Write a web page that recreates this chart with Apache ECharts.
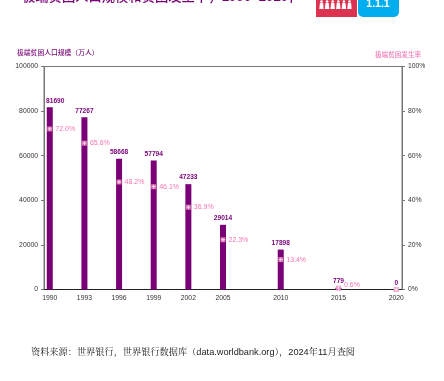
<!DOCTYPE html>
<html><head><meta charset="utf-8">
<style>html,body{margin:0;padding:0;background:#fff}#c{width:444px;height:381px}</style>
<script src="https://cdn.jsdelivr.net/npm/echarts@6/dist/echarts.min.js"></script></head>
<body><div id="c"></div>
<script>
const years = ['1990','1991','1992','1993','1994','1995','1996','1997','1998','1999','2000','2001','2002','2003','2004','2005','2006','2007','2008','2009','2010','2011','2012','2013','2014','2015','2016','2017','2018','2019','2020'];
const labelledYears = ['1990','1993','1996','1999','2002','2005','2010','2015','2020'];
const population = {1990:81690,1993:77267,1996:58668,1999:57794,2002:47233,2005:29014,2010:17898,2015:779,2020:0};
const rate = {1990:72.0,1993:65.6,1996:48.2,1999:46.1,2002:36.9,2005:22.3,2010:13.4,2015:0.6,2020:0};
const rateLabels = {1990:'72.0%',1993:'65.6%',1996:'48.2%',1999:'46.1%',2002:'36.9%',2005:'22.3%',2010:'13.4%',2015:'0.6%'};
const tickFont = 'Liberation Sans';
const PLUS = 'path://M4 0H6V4H10V6H6V10H4V6H0V4H4Z';
const chart = echarts.init(document.getElementById('c'), null, {renderer:'canvas'});
const people = [];
for (let i = 0; i < 6; i++) {
  const cx = 321.5 + i * 5.6;
  people.push({type:'circle',shape:{cx:cx,cy:1.5,r:1.3},style:{fill:'#fff'}});
  people.push({type:'polygon',shape:{points:[[cx-1.6,3],[cx+1.6,3],[cx+2.2,9],[cx-2.2,9]]},style:{fill:'#fff'}});
}
chart.setOption({
  animation:false,
  grid:{show:true,borderColor:'#777',borderWidth:1,backgroundColor:'transparent',left:44,right:42,top:66.5,bottom:91.5},
  xAxis:{type:'category',data:years,boundaryGap:true,
    axisLine:{lineStyle:{color:'#222',width:1}},axisTick:{show:false},
    axisLabel:{interval:0,color:'#333',fontSize:6.8,fontFamily:tickFont,margin:5,
      formatter:v=>labelledYears.includes(v)?v:''}},
  yAxis:[
    {type:'value',min:0,max:100000,interval:20000,
     axisLine:{show:true,lineStyle:{color:'#777',width:1}},
     axisTick:{show:true,length:3,lineStyle:{color:'#777'}},splitLine:{show:false},
     axisLabel:{color:'#333',fontSize:6.8,fontFamily:tickFont,margin:6,formatter:v=>String(v)}},
    {type:'value',min:0,max:100,interval:20,position:'right',
     axisLine:{show:true,lineStyle:{color:'#777',width:1}},
     axisTick:{show:true,length:3,lineStyle:{color:'#777'}},splitLine:{show:false},
     axisLabel:{color:'#333',fontSize:6.8,fontFamily:tickFont,margin:6,formatter:'{value}%'}}
  ],
  series:[
    {type:'bar',barWidth:6,yAxisIndex:0,
     data:years.map(y=>y in population?population[y]:null),
     itemStyle:{color:'#7a0078'},
     label:{show:true,position:'top',distance:3,color:'#7a0078',fontSize:6.6,fontWeight:'bold',fontFamily:tickFont,formatter:p=>String(p.value)},
     labelLayout:p=>years[p.dataIndex]==='1990'?{dx:5.5}:{}},
    {type:'scatter',yAxisIndex:1,symbol:'rect',symbolSize:5,
     data:years.map(y=>y in rate?rate[y]:null),
     itemStyle:{color:'#f08cc0'},
     label:{show:true,position:'right',distance:3,color:'#f0509f',fontSize:7,fontFamily:tickFont,
       formatter:p=>rateLabels[years[p.dataIndex]]||''},
     labelLayout:p=>years[p.dataIndex]==='2015'?{dy:-3}:{}},
    {type:'scatter',yAxisIndex:1,symbol:PLUS,symbolSize:4,silent:true,z:3,
     data:years.map(y=>y in rate?rate[y]:null),
     itemStyle:{color:'#fff'},label:{show:false}}
  ],
  graphic:[
    {type:'text',x:22,y:-10.5,style:{text:'极端贫困人口规模和贫困发生率，',fill:'#7a0078',font:'500 13.3px "Noto Sans CJK SC"'}},
    {type:'text',x:221.7,y:-9,style:{text:'1990–2020',fill:'#7a0078',font:'bold 13.3px "Liberation Sans"'}},
    {type:'text',x:284,y:-10.5,style:{text:'年',fill:'#7a0078',font:'500 13.3px "Noto Sans CJK SC"'}},
    {type:'text',x:17,y:49,style:{text:'极端贫困人口规模（万人）',fill:'#7d0f7b',font:'500 6.8px "Noto Sans CJK SC"'}},
    {type:'text',x:375,y:51.5,style:{text:'极端贫困发生率',fill:'#f27cb8',font:'500 6.6px "Noto Sans CJK SC"'}},
    {type:'rect',shape:{x:316,y:-6,width:41,height:23},style:{fill:'#dc3450'}},
    {type:'rect',shape:{x:358,y:-6,width:41,height:23,r:5},style:{fill:'#00aeef'}},
    {type:'group',children:people},
    {type:'text',x:378,y:4,style:{text:'1.1.1',fill:'#fff',align:'center',verticalAlign:'middle',font:'bold 10.5px "Liberation Sans"'}},
    {type:'text',x:31,y:348,style:{text:'资料来源：世界银行，世界银行数据库（data.worldbank.org），2024年11月查阅',fill:'#222',font:'9.2px "Liberation Sans","Noto Serif CJK SC","Noto Sans CJK SC"'}}
  ]
});
</script></body></html>
